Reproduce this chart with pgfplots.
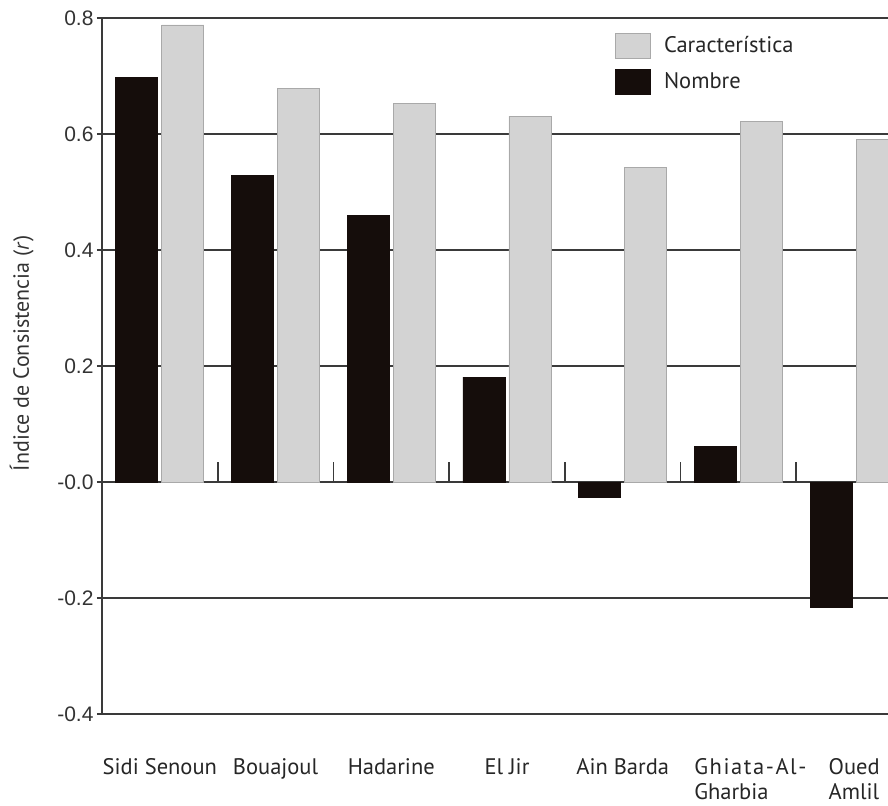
\documentclass[border=0pt]{standalone}
\usepackage{fontspec}
\setmainfont{PT Sans}
\newfontfamily\arialf{Liberation Sans}
\usepackage{pgfplots}
\pgfplotsset{compat=1.18}
\definecolor{barblack}{HTML}{150D0B}
\definecolor{bargray}{HTML}{D3D3D3}
\definecolor{bargrayedge}{HTML}{A9A9A9}
\definecolor{axisgray}{HTML}{3A3A3A}
\definecolor{ticklab}{HTML}{333333}
\begin{document}
\begin{tikzpicture}
\useasboundingbox (-102bp,-92bp) rectangle (786bp,714bp);
\begin{axis}[
  ybar,
  scale only axis, width=810bp, height=696bp,
  xmin=-0.5, xmax=6.5, ymin=-0.4, ymax=0.8,
  axis x line*=box, axis y line*=left,
  axis line style={axisgray, line width=1.6bp},
  xtick={0,1,2,3,4,6},
  xticklabels={Sidi Senoun, Bouajoul, Hadarine, El Jir, Ain Barda, Oued\\Amlil},
  extra x ticks={5},
  extra x tick labels={{\addfontfeature{LetterSpace=7}Ghiata-Al-}\\Gharbia},
  extra x tick style={xticklabel style={xshift=12bp}, grid=none},
  xtick style={draw=none},
  xticklabel style={font=\fontsize{22.5bp}{25bp}\selectfont, align=left, yshift=-36bp, text=black!85},
  ytick={-0.4,-0.2,0,0.2,0.4,0.6,0.8},
  yticklabels={-0.4,-0.2,-0.0,0.2,0.4,0.6,0.8},
  yticklabel style={font=\arialf\fontsize{21bp}{24bp}\selectfont, text=ticklab},
  ytick style={axisgray, line width=1.6bp},
  tick align=outside, major tick length=5bp,
  ymajorgrids, grid style={axisgray, line width=1.6bp},
  ylabel={Índice de Consistencia (\textit{r})},
  ylabel style={font=\fontsize{22bp}{24bp}\selectfont, text=black!80, at={(axis description cs:-0.099,0.518)}, anchor=center},
  legend style={at={(axis description cs:0.629,0.982)}, anchor=north west, draw=none, fill=none,
     font=\fontsize{22.5bp}{24bp}\selectfont, row sep=10bp, text=black!85},
  legend cell align=left,
  legend image code/.code={\draw[#1, line width=0.8bp] (0bp,-12.5bp) rectangle (35bp,12.5bp); \path[draw=none, fill=none] (0bp,0bp) -- (47bp,0bp);},
]
\addplot[fill=bargray, draw=bargrayedge, line width=0.8bp, bar width=42bp, bar shift=23bp]
  coordinates {(0,0.788) (1,0.679) (2,0.652) (3,0.631) (4,0.543) (5,0.621) (6,0.590)};
\addlegendentry{Característica}
\addplot[fill=barblack, draw=barblack, line width=0.8bp, bar width=42bp, bar shift=-23bp]
  coordinates {(0,0.698) (1,0.529) (2,0.459) (3,0.181) (4,-0.026) (5,0.062) (6,-0.216)};
\addlegendentry{Nombre}
\addplot[ycomb, forget plot, axisgray, line width=1.6bp, mark=none]
  coordinates {(0.5,0.035) (1.5,0.035) (2.5,0.035) (3.5,0.035) (4.5,0.035) (5.5,0.035)};
\end{axis}
\end{tikzpicture}
\end{document}
